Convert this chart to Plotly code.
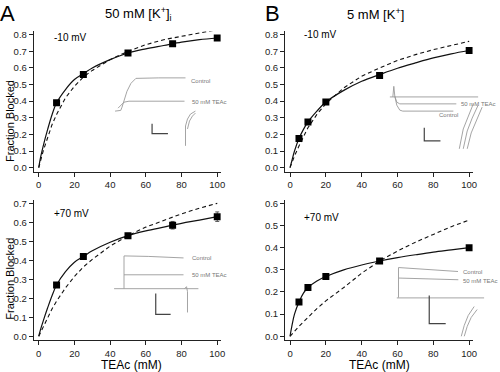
import plotly.graph_objects as go

W, H = 500, 372

# ---------------- main data ----------------
# Panel A (50 mM [K+]i), -10 mV
a1_x = [10, 25, 50, 75, 100]
a1_y = [0.39, 0.56, 0.69, 0.745, 0.78]
a1_err = [0.012, 0.012, 0.012, 0.012, 0.015]
a1_fit_x = [0, 1, 2.5, 5, 7.5, 10, 15, 20, 25, 30, 40, 50, 60, 70, 80, 90, 100]
a1_solid = [0, 0.06, 0.13, 0.23, 0.32, 0.39, 0.47, 0.53, 0.565, 0.6, 0.65, 0.69, 0.715, 0.735, 0.755, 0.77, 0.78]
a1_dash = [0, 0.04, 0.1, 0.18, 0.26, 0.32, 0.42, 0.49, 0.545, 0.585, 0.65, 0.70, 0.74, 0.77, 0.79, 0.81, 0.83]

# Panel A, +70 mV
a2_x = [10, 25, 50, 75, 100]
a2_y = [0.27, 0.42, 0.53, 0.585, 0.63]
a2_err = [0.012, 0.012, 0.012, 0.02, 0.025]
a2_fit_x = [0, 1, 2.5, 5, 7.5, 10, 15, 20, 25, 30, 40, 50, 60, 70, 80, 90, 100]
a2_solid = [0, 0.035, 0.08, 0.15, 0.215, 0.27, 0.34, 0.39, 0.42, 0.45, 0.495, 0.53, 0.555, 0.575, 0.595, 0.612, 0.63]
a2_dash = [0, 0.02, 0.05, 0.1, 0.145, 0.185, 0.255, 0.315, 0.365, 0.405, 0.475, 0.53, 0.575, 0.61, 0.645, 0.675, 0.70]

# Panel B (5 mM [K+]), -10 mV
b1_x = [5, 10, 20, 50, 100]
b1_y = [0.175, 0.275, 0.395, 0.555, 0.705]
b1_err = [0.01, 0.01, 0.01, 0.01, 0.012]
b1_fit_x = [0, 1, 2.5, 5, 7.5, 10, 15, 20, 30, 40, 50, 60, 70, 80, 90, 100]
b1_solid = [0, 0.04, 0.1, 0.175, 0.23, 0.275, 0.34, 0.395, 0.465, 0.52, 0.56, 0.598, 0.63, 0.66, 0.685, 0.705]
b1_dash = [0, 0.03, 0.07, 0.13, 0.19, 0.24, 0.32, 0.385, 0.48, 0.55, 0.60, 0.645, 0.68, 0.71, 0.735, 0.76]

# Panel B, +70 mV
b2_x = [5, 10, 20, 50, 100]
b2_y = [0.155, 0.22, 0.27, 0.34, 0.40]
b2_err = [0.008, 0.008, 0.008, 0.008, 0.008]
b2_fit_x = [0, 1, 2.5, 5, 7.5, 10, 15, 20, 30, 40, 50, 60, 70, 80, 90, 100]
b2_solid = [0, 0.045, 0.1, 0.155, 0.195, 0.22, 0.25, 0.27, 0.3, 0.322, 0.34, 0.355, 0.368, 0.38, 0.39, 0.40]
b2_dash = [0, 0.01, 0.025, 0.045, 0.065, 0.085, 0.125, 0.16, 0.22, 0.285, 0.34, 0.385, 0.425, 0.46, 0.495, 0.525]

x_ticks = [0, 20, 40, 60, 80, 100]

# ---------------- inset current traces (arbitrary local units) ----------------
# Inset A, -10 mV
ia1_ctrl_t = [6, 11.7, 13, 15, 18, 22, 27, 50, 77]
ia1_ctrl_i = [40, 40.7, 44, 50, 60, 68, 73, 73.5, 73.5]
ia1_tea_t = [9, 12, 15, 20, 76]
ia1_tea_i = [43, 46, 49, 50, 50]
ia1_tail1_t = [77, 77, 79, 82, 87]
ia1_tail1_i = [5, 25, 32, 37, 40]
ia1_tail2_t = [79, 81, 84, 87]
ia1_tail2_i = [22, 30, 35, 38]
ia1_bar_t = [43.3, 43.3, 59.3]
ia1_bar_i = [27.3, 17.3, 17.3]

# Inset A, +70 mV
ia2_ctrl_t = [15, 15, 16, 40, 75]
ia2_ctrl_i = [36, 69, 69, 68.5, 67]
ia2_tea_t = [15, 40, 75]
ia2_tea_i = [50, 50, 50]
ia2_base_t = [5, 90]
ia2_base_i = [36, 36]
ia2_tail_t = [76, 78, 79, 79]
ia2_tail_i = [36, 38, 33, 12]
ia2_bar_t = [47, 47, 62]
ia2_bar_i = [31, 10, 10]

# Inset B, -10 mV
ib1_base_t = [3, 92]
ib1_base_i = [54.3, 54.3]
ib1_tea_t = [6, 7, 8, 10, 13, 70]
ib1_tea_i = [54.3, 65, 55, 49, 47.3, 47.3]
ib1_ctrl_t = [8, 10, 13, 16, 67]
ib1_ctrl_i = [55, 46, 41, 40, 40]
ib1_tail1_t = [87, 82, 77, 73]
ib1_tail1_i = [47, 35, 22, 2]
ib1_tail2_t = [92, 86, 81, 77]
ib1_tail2_i = [46, 33, 20, 2]
ib1_tail3_t = [96, 91, 85, 81]
ib1_tail3_i = [44, 32, 18, 2]
ib1_bar_t = [37.7, 37.7, 54]
ib1_bar_i = [23.3, 10, 10]

# Inset B, +70 mV
ib2_ctrl_t = [11.7, 11.7, 71.7]
ib2_ctrl_i = [42, 72.3, 68.3]
ib2_tea_t = [12, 72]
ib2_tea_i = [61.7, 60]
ib2_base_t = [10, 98]
ib2_base_i = [41.7, 41.7]
ib2_tail1_t = [75, 78, 82, 88]
ib2_tail1_i = [3, 14, 24, 33]
ib2_tail2_t = [78, 81, 85, 91]
ib2_tail2_i = [3, 13, 22, 30]
ib2_bar_t = [42.7, 42.7, 59.3]
ib2_bar_i = [44, 15.7, 15.7]

FONT = "Liberation Sans, Arial, sans-serif"
fig = go.Figure()

panels = [
    ("x", "y", a1_x, a1_y, a1_err, a1_fit_x, a1_solid, a1_dash),
    ("x2", "y2", a2_x, a2_y, a2_err, a2_fit_x, a2_solid, a2_dash),
    ("x3", "y3", b1_x, b1_y, b1_err, b1_fit_x, b1_solid, b1_dash),
    ("x4", "y4", b2_x, b2_y, b2_err, b2_fit_x, b2_solid, b2_dash),
]
for xa, ya, px, py, pe, fx, fs, fd in panels:
    fig.add_trace(go.Scatter(x=fx, y=fd, mode="lines", xaxis=xa, yaxis=ya,
                             line=dict(color="#111", width=1.1, dash="4px,3px"),
                             showlegend=False, hoverinfo="skip"))
    fig.add_trace(go.Scatter(x=fx, y=fs, mode="lines", xaxis=xa, yaxis=ya,
                             line=dict(color="#111", width=1.2, shape="spline"),
                             showlegend=False, hoverinfo="skip"))
    fig.add_trace(go.Scatter(x=px, y=py, mode="markers", xaxis=xa, yaxis=ya,
                             marker=dict(symbol="square", size=7, color="black"),
                             error_y=dict(type="data", array=pe, color="#555",
                                          thickness=1, width=2),
                             showlegend=False))

# insets
GREY = "#9a9a9a"
insets = [
    ("x5", "y5", [(ia1_ctrl_t, ia1_ctrl_i), (ia1_tea_t, ia1_tea_i),
                  (ia1_tail1_t, ia1_tail1_i), (ia1_tail2_t, ia1_tail2_i)],
     (ia1_bar_t, ia1_bar_i)),
    ("x6", "y6", [(ia2_ctrl_t, ia2_ctrl_i), (ia2_tea_t, ia2_tea_i),
                  (ia2_base_t, ia2_base_i), (ia2_tail_t, ia2_tail_i)],
     (ia2_bar_t, ia2_bar_i)),
    ("x7", "y7", [(ib1_base_t, ib1_base_i), (ib1_tea_t, ib1_tea_i),
                  (ib1_ctrl_t, ib1_ctrl_i), (ib1_tail1_t, ib1_tail1_i),
                  (ib1_tail2_t, ib1_tail2_i), (ib1_tail3_t, ib1_tail3_i)],
     (ib1_bar_t, ib1_bar_i)),
    ("x8", "y8", [(ib2_ctrl_t, ib2_ctrl_i), (ib2_tea_t, ib2_tea_i),
                  (ib2_base_t, ib2_base_i), (ib2_tail1_t, ib2_tail1_i),
                  (ib2_tail2_t, ib2_tail2_i)],
     (ib2_bar_t, ib2_bar_i)),
]
for xa, ya, traces, bar in insets:
    for t, i in traces:
        fig.add_trace(go.Scatter(x=t, y=i, mode="lines", xaxis=xa, yaxis=ya,
                                 line=dict(color=GREY, width=0.9),
                                 showlegend=False, hoverinfo="skip"))
    fig.add_trace(go.Scatter(x=bar[0], y=bar[1], mode="lines", xaxis=xa, yaxis=ya,
                             line=dict(color="#444", width=1.2),
                             showlegend=False, hoverinfo="skip"))

tickfont = dict(family=FONT, size=9.5, color="#222")


def main_x(domain, anchor):
    return dict(domain=domain, anchor=anchor, range=[-2.8, 102], tickvals=x_ticks,
                ticks="outside", ticklen=4, tickwidth=1, tickcolor="#222",
                showline=True, linecolor="#222", linewidth=1, showgrid=False,
                zeroline=False, tickfont=tickfont)


def main_y(domain, anchor, rng, top):
    vals = [round(v * 0.1, 1) for v in range(0, int(round(top * 10)) + 1)]
    return dict(domain=domain, anchor=anchor, range=rng, tickvals=vals,
                ticktext=[f"{v:.1f}" for v in vals],
                ticks="outside", ticklen=4, tickwidth=1, tickcolor="#222",
                showline=True, linecolor="#222", linewidth=1, showgrid=False,
                zeroline=False, tickfont=tickfont)


def inset_ax(domain, anchor, rng):
    return dict(domain=domain, anchor=anchor, range=rng, visible=False,
                showgrid=False, zeroline=False)


def dom_x(p0, p1):
    return [p0 / W, p1 / W]


def dom_y(ptop, pbot):
    return [(H - pbot) / H, (H - ptop) / H]


fig.update_layout(
    width=W, height=H, margin=dict(l=0, r=0, t=0, b=0),
    paper_bgcolor="white", plot_bgcolor="rgba(0,0,0,0)",
    xaxis=main_x(dom_x(34, 222.6), "y"),
    yaxis=main_y(dom_y(29.6, 171), "x", [-0.024, 0.82], 0.8),
    xaxis2=main_x(dom_x(34, 222.6), "y2"),
    yaxis2=main_y(dom_y(199.2, 341), "x2", [-0.021, 0.72], 0.7),
    xaxis3=main_x(dom_x(287.3, 476.6), "y3"),
    yaxis3=main_y(dom_y(29.6, 171), "x3", [-0.024, 0.82], 0.8),
    xaxis4=main_x(dom_x(287.3, 476.6), "y4"),
    yaxis4=main_y(dom_y(199.7, 341), "x4", [-0.018, 0.615], 0.6),
    xaxis5=inset_ax(dom_x(110, 230), "y5", [0, 120]),
    yaxis5=inset_ax(dom_y(70, 150), "x5", [0, 80]),
    xaxis6=inset_ax(dom_x(110, 230), "y6", [0, 120]),
    yaxis6=inset_ax(dom_y(245, 325), "x6", [0, 80]),
    xaxis7=inset_ax(dom_x(390, 500), "y7", [0, 110]),
    yaxis7=inset_ax(dom_y(80, 150), "x7", [0, 70]),
    xaxis8=inset_ax(dom_x(390, 500), "y8", [0, 110]),
    yaxis8=inset_ax(dom_y(255, 340), "x8", [0, 85]),
)


def ann(text, px, py, size, xanchor="center", angle=0, color="black"):
    fig.add_annotation(text=text, x=px / W, y=1 - py / H,
                       xref="paper", yref="paper", showarrow=False,
                       xanchor=xanchor, yanchor="middle", textangle=angle,
                       font=dict(family=FONT, size=size, color=color))


ann("A", 8, 12, 22)
ann("B", 275, 12, 22)
ann("50 mM [K<sup>+</sup>]<sub>i</sub>", 140, 12, 13)
ann("5 mM [K<sup>+</sup>]", 379, 12, 13)
ann("Fraction Blocked", 10, 120, 11, angle=-90)
ann("Fraction Blocked", 10, 279, 11, angle=-90)
ann("TEAc (mM)", 133, 366, 12)
ann("TEAc (mM)", 383, 366, 12)
ann("-10 mV", 52, 36, 10, xanchor="left")
ann("+70 mV", 52, 213, 10, xanchor="left")
ann("-10 mV", 304, 33, 10, xanchor="left")
ann("+70 mV", 304, 217, 10, xanchor="left")

# inset labels (inset-local coordinates)
small = 6


def inset_label(text, x, y, xa, ya):
    fig.add_annotation(text=text, x=x, y=y, xref=xa, yref=ya, showarrow=False,
                       xanchor="left", font=dict(family=FONT, size=small, color="#777"))


inset_label("Control", 81, 70.3, "x5", "y5")
inset_label("50 mM TEAc", 81.7, 49.3, "x5", "y5")
inset_label("Control", 82, 67, "x6", "y6")
inset_label("50 mM TEAc", 82, 50, "x6", "y6")
inset_label("50 mM TEAc", 72.5, 47, "x7", "y7")
inset_label("Control", 51, 36, "x7", "y7")
inset_label("Control", 75, 68, "x8", "y8")
inset_label("50 mM TEAc", 75, 59, "x8", "y8")

fig.write_html("out.html", config={"displayModeBar": False},
               post_script="document.body.style.margin='0px';")
